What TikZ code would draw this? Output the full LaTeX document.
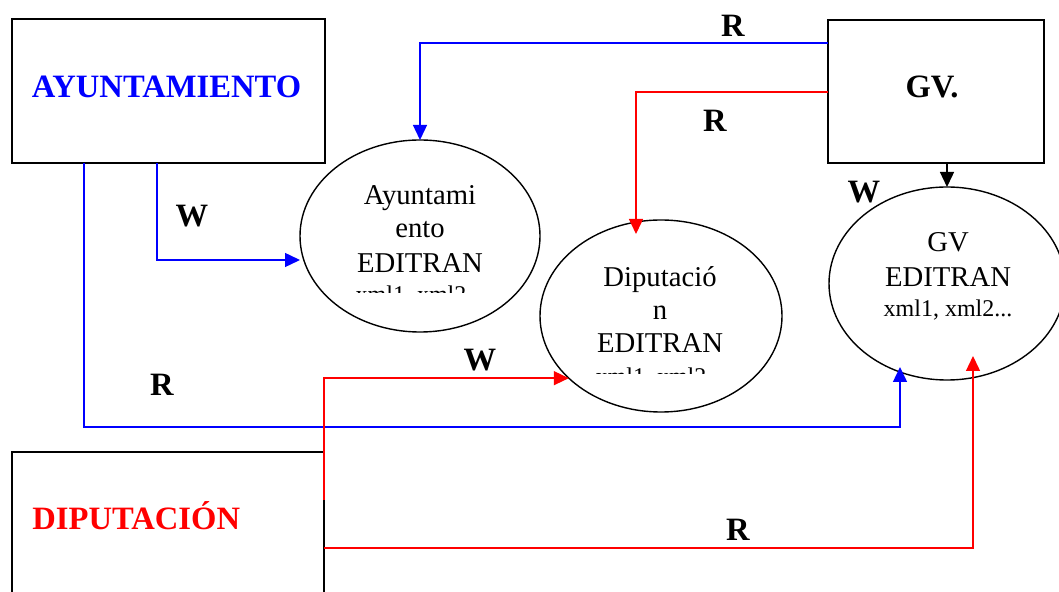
\documentclass[tikz,border=0pt]{standalone}
\usepackage{fontspec}
\setmainfont{Liberation Serif}
\usetikzlibrary{arrows.meta,shapes.geometric}
\tikzset{
    caja/.style={draw, line width=1pt, inner sep=0pt, outer sep=0pt},
    burbuja/.style={draw, ellipse, line width=0.7pt, inner sep=0pt, outer sep=0pt},
    rotulo/.style={font=\fontsize{16.3}{19}\selectfont\bfseries, inner sep=0pt},
    letra/.style={font=\fontsize{14.35}{17}\selectfont, anchor=base, inner sep=0pt},
    letrita/.style={font=\fontsize{12}{14}\selectfont, anchor=base, inner sep=0pt},
    linea/.style={line width=0.7pt, -{Triangle[length=7.5pt,width=7pt]}},
}
\begin{document}
\begin{tikzpicture}[x=0.5pt, y=-0.5pt]%% empieza dibujo
\clip (0,0) rectangle (1059,592);


    \node[caja, minimum width=156.5pt, minimum height=72pt] (ayto) at (168.5,91) {};
        \node[rotulo, blue, anchor=base] at (166.5,98) {AYUNTAMIENTO};
    \node[caja, minimum width=108pt, minimum height=71.5pt] (gv) at (936,91.5) {};
        \node[rotulo, anchor=base] at (932,98) {GV.};
    \node[caja, minimum width=156pt, minimum height=104pt] (dip) at (168,556) {};
        \node[rotulo, red, anchor=base west] at (32,530) {DIPUTACIÓN};


    \node[burbuja, minimum width=120pt, minimum height=96pt] (e1) at (420,236) {};
        \node[letra] at (420,205) {Ayuntami};
        \node[letra] at (420,238) {ento};
        \node[letra] at (420,272.5) {EDITRAN};
        \begin{scope}
            \clip (300,280) rectangle (540,293);
            \node[letrita] at (420,303) {xml1, xml2...};
        \end{scope}

    \node[burbuja, minimum width=121pt, minimum height=96pt] (e2) at (661,316) {};
        \node[letra] at (660,287) {Diputació};
        \node[letra] at (660,320) {n};
        \node[letra] at (660,353) {EDITRAN};
        \begin{scope}
            \clip (540,360) rectangle (782,374);
            \node[letrita] at (660,385) {xml1, xml2...};
        \end{scope}

    \node[burbuja, minimum width=118pt, minimum height=96.5pt] (e3) at (947,283.5) {};
        \node[letra] at (948,252) {GV};
        \node[letra] at (948,287) {EDITRAN};
        \node[letrita] at (948,317) {xml1, xml2...};


    \draw[linea, blue] (ayto.south -| 157,0) |- (e1.west |- 0,260);
        \node[rotulo] at (192,216) {W};
    \draw[linea, blue, shorten >=-6.5pt] (ayto.south -| 84,0) -- (84,427) -| (e3.south -| 900,0);
        \node[rotulo] at (162,385) {R};
    \draw[linea, blue] (gv.west |- 0,43) -| (e1.north);
        \node[rotulo] at (733,26) {R};


    \draw[linea, red, shorten >=-7pt] (gv.west |- 0,92) -| (e2.north -| 636,0);
        \node[rotulo] at (715,121) {R};
    \draw[linea, red] (dip.east |- 0,500) |- (e2.214);
        \node[rotulo] at (480,360) {W};
    \draw[linea, red, shorten >=-12pt] (dip.east |- 0,548) -| (e3.south -| 973,0);
        \node[rotulo] at (738,530) {R};


    \draw[linea] (gv.south -| e3.north) -- (e3.north);
        \node[rotulo] at (864,192) {W};

\end{tikzpicture}
\end{document}
